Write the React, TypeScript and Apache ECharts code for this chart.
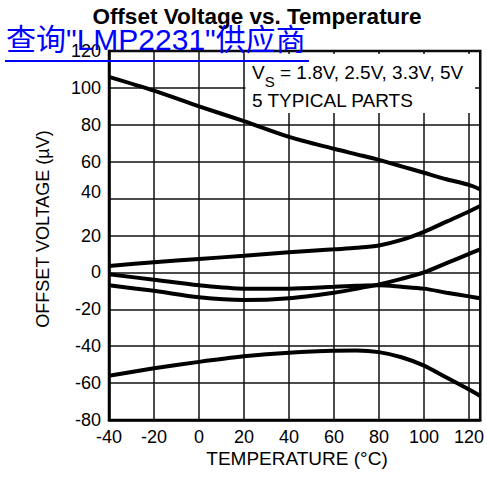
import React, { useEffect, useRef } from "react";
import * as echarts from "echarts";

const temps = [-40, -20, 0, 20, 40, 60, 70, 80, 90, 100, 110, 120, 125];
const part1 = [106, 98.5, 90, 82, 73.5, 67, 64, 61, 57.5, 54, 50.5, 47.4, 45];
const part2 = [3.5, 5.5, 7.3, 9, 10.9, 12.5, 13.3, 14.6, 17.6, 22, 27.5, 33, 36];
const part3 = [-1, -4, -7, -8.8, -8.8, -7.8, -7.3, -7, -7.8, -8.8, -11, -13, -14];
const part4 = [-7, -10, -13.5, -15, -14, -11, -8.9, -6.5, -3.5, 0, 5, 10, 12.5];
const part5 = [-56, -52, -48.5, -45.5, -43.5, -42.5, -42.3, -43.2, -46, -50.5, -57, -63.5, -67];
const parts = [part1, part2, part3, part4, part5];

const title = "Offset Voltage vs. Temperature";
const linkText = '查询"LMP2231"供应商';
const xName = "TEMPERATURE (°C)";
const yName = "OFFSET VOLTAGE (µV)";
const noteLine2 = "5 TYPICAL PARTS";

const FONT = "'Liberation Sans', Arial, Helvetica, sans-serif";

export default function App() {
  const ref = useRef<HTMLDivElement>(null);
  useEffect(() => {
    if (!ref.current) return;
    const chart = echarts.init(ref.current, null, { renderer: "svg" });
    chart.setOption({
      animation: false,
      backgroundColor: "#ffffff",
      textStyle: { fontFamily: FONT },
      grid: {
        left: 109,
        top: 51,
        width: 372,
        height: 369,
        show: true,
        borderColor: "#000",
        borderWidth: 2.5,
        backgroundColor: "transparent",
      },
      xAxis: {
        type: "value",
        min: -40,
        max: 125,
        interval: 20,
        axisLine: { show: true, onZero: false, lineStyle: { color: "#000", width: 2.5 } },
        axisTick: { show: false },
        splitLine: { show: true, lineStyle: { color: "#111", width: 1.5 } },
        axisLabel: {
          showMaxLabel: false,
          color: "#000",
          fontSize: 18,
          fontFamily: FONT,
          margin: 8,
        },
      },
      yAxis: {
        type: "value",
        min: -80,
        max: 120,
        interval: 20,
        axisLine: { show: true, onZero: false, lineStyle: { color: "#000", width: 2.5 } },
        axisTick: { show: false },
        splitLine: { show: true, lineStyle: { color: "#111", width: 1.5 } },
        axisLabel: {
          color: "#000",
          fontSize: 18,
          fontFamily: FONT,
          margin: 8,
          formatter: (v: number) => (v === 40 ? "{up|40}" : String(v)),
          rich: {
            up: { fontSize: 18, fontFamily: FONT, color: "#000", padding: [0, 0, 14, 0] },
          },
        },
      },
      series: parts.map((p, k) => ({
        name: "part" + (k + 1),
        type: "line",
        smooth: 0.3,
        showSymbol: false,
        symbol: "none",
        lineStyle: { color: "#000", width: 4 },
        data: temps.map((t, i) => [t, p[i]]),
        z: 3,
      })),
      graphic: [
        {
          type: "rect",
          shape: { x: 245.5, y: 54, width: 229.5, height: 59 },
          style: { fill: "#fff" },
          z: 10,
        },
        {
          type: "text",
          x: 252,
          y: 72,
          z: 11,
          style: {
            text: "{v|V}{s|S}{t| = 1.8V, 2.5V, 3.3V, 5V}",
            textVerticalAlign: "middle",
            rich: {
              v: { fontSize: 19, fontFamily: FONT, fill: "#000" },
              s: { fontSize: 15, fontFamily: FONT, fill: "#000", padding: [18, 0, 0, 0] },
              t: { fontSize: 19, fontFamily: FONT, fill: "#000" },
            },
          },
        },
        {
          type: "text",
          x: 252,
          y: 100,
          z: 11,
          style: {
            text: noteLine2,
            fontSize: 19,
            fontFamily: FONT,
            fill: "#000",
            textVerticalAlign: "middle",
          },
        },
        {
          type: "text",
          x: 257,
          y: 16,
          z: 11,
          style: {
            text: title,
            fontSize: 22.5,
            fontWeight: "bold",
            fontFamily: FONT,
            fill: "#000",
            textAlign: "center",
            textVerticalAlign: "middle",
          },
        },
        {
          type: "text",
          x: 297,
          y: 458,
          z: 11,
          style: {
            text: xName,
            fontSize: 19,
            fontFamily: FONT,
            fill: "#000",
            textAlign: "center",
            textVerticalAlign: "middle",
          },
        },
        {
          type: "text",
          x: 43,
          y: 229,
          rotation: Math.PI / 2,
          z: 11,
          style: {
            text: yName,
            fontSize: 18,
            fontFamily: FONT,
            fill: "#000",
            textAlign: "center",
            textVerticalAlign: "middle",
          },
        },
        {
          type: "text",
          x: 6,
          y: 39,
          z: 20,
          style: {
            text: linkText,
            fontSize: 30,
            fontFamily: "'Liberation Sans', 'Noto Sans CJK SC', sans-serif",
            fill: "#0000ff",
            textAlign: "left",
            textVerticalAlign: "middle",
          },
        },
        {
          type: "line",
          z: 20,
          shape: { x1: 5, y1: 61, x2: 309, y2: 61 },
          style: { stroke: "#0000ff", lineWidth: 2 },
        },
      ],
    });
    return () => chart.dispose();
  }, []);
  return (
    <div
      ref={ref}
      style={{ position: "fixed", left: 0, top: 0, width: 487, height: 482 }}
    />
  );
}
